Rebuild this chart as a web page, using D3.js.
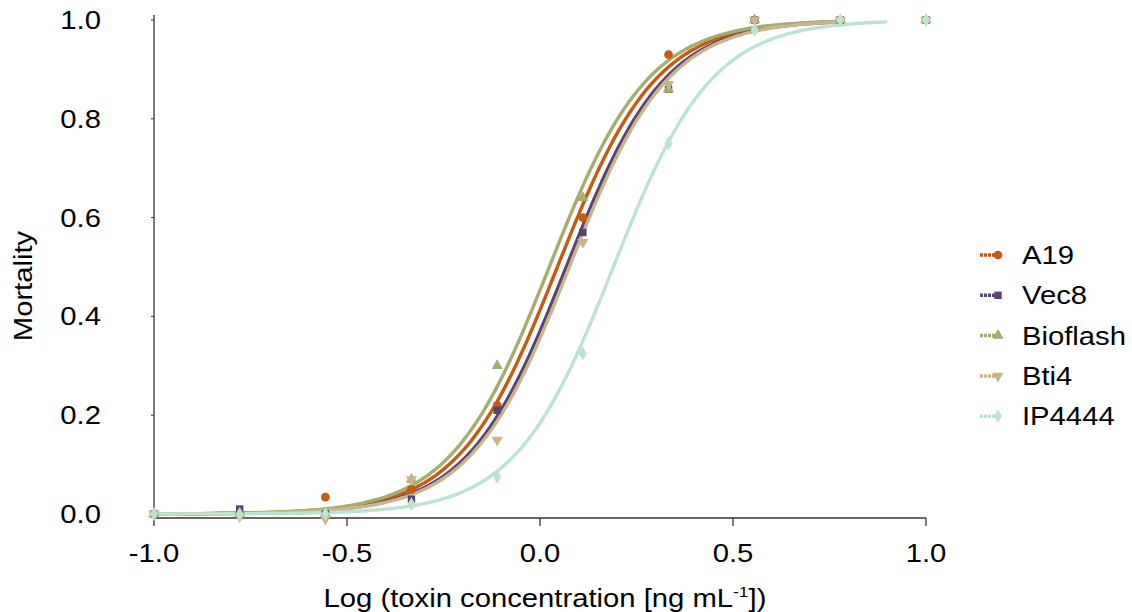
<!DOCTYPE html>
<html>
<head>
<meta charset="utf-8">
<script src="https://cdn.jsdelivr.net/npm/d3@7"></script>
<style>
  body { margin: 0; background: #fff; }
  svg { font-family: "Liberation Sans", Arial, sans-serif; }
</style>
</head>
<body>
<svg id="chart" width="1132" height="612"></svg>
<script>
// log10 concentration of each dose
var doses = [-1.0, -0.778, -0.556, -0.333, -0.111, 0.111, 0.333, 0.556, 0.778, 1.0];

var seriesNames = ["A19", "Vec8", "Bioflash", "Bti4", "IP4444"];
var seriesColors = ["#c55a11", "#5a4270", "#a3ad6c", "#c9b48e", "#bce2d0"];
var seriesShapes = ["circle", "square", "triangle", "triangleDown", "diamond"];

// observed mortality
var a19 = [0.0, 0.0, 0.034, 0.05, 0.22, 0.60, 0.93, 1.0, 1.0, 1.0];
var vec8 = [0.0, 0.01, 0.0, 0.03, 0.21, 0.57, 0.86, 1.0, 1.0, 1.0];
var bioflash = [0.0, 0.0, 0.0, 0.07, 0.30, 0.64, 0.86, 1.0, 1.0, 1.0];
var bti4 = [0.0, -0.005, -0.01, 0.07, 0.15, 0.55, 0.87, 1.0, 1.0, 1.0];
var ip4444 = [0.0, 0.0, 0.0, 0.02, 0.075, 0.325, 0.75, 0.98, 1.0, 1.0];

// fitted dose-response (log LC50, hill slope) and x range of each fitted curve
var fitLC50 = [0.045, 0.068, 0.024, 0.076, 0.19];
var fitSlope = [3.4, 3.4, 3.4, 3.4, 3.4];
var fitEnd = [0.778, 0.778, 0.778, 0.778, 0.9];

var xTicks = [-1.0, -0.5, 0.0, 0.5, 1.0];
var yTicks = [0.0, 0.2, 0.4, 0.6, 0.8, 1.0];

var values = [a19, vec8, bioflash, bti4, ip4444];

var svg = d3.select("#chart");

var x = d3.scaleLinear().domain([-1, 1]).range([154, 926]);
var y = d3.scaleLinear().domain([0, 1]).range([514, 20]);

// the original font is a bit wider than Arial
var stretch = 1.17;
var fs = 25;
function addText(px, py, anchor, str) {
    return svg.append("text")
        .attr("transform", `translate(${px},${py}) scale(${stretch},1)`)
        .attr("text-anchor", anchor)
        .attr("font-size", fs)
        .text(str);
}

// axes
var xAxisY = 518;
svg.append("line")
    .attr("x1", 154).attr("x2", 926)
    .attr("y1", xAxisY).attr("y2", xAxisY)
    .attr("stroke", "#333").attr("stroke-width", 1.3);
svg.append("line")
    .attr("x1", 154).attr("x2", 154)
    .attr("y1", 15).attr("y2", xAxisY)
    .attr("stroke", "#333").attr("stroke-width", 1.3);

svg.selectAll(".xtick")
    .data(xTicks)
    .join("line")
    .attr("x1", d => x(d)).attr("x2", d => x(d))
    .attr("y1", xAxisY).attr("y2", xAxisY + 8)
    .attr("stroke", "#333").attr("stroke-width", 1.3);

xTicks.forEach(function(d) {
    addText(x(d), 562, "middle", d3.format(".1f")(d).replace("−", "-"));
});

svg.selectAll(".ytick")
    .data(yTicks)
    .join("line")
    .attr("x1", 151).attr("x2", 154)
    .attr("y1", d => y(d)).attr("y2", d => y(d))
    .attr("stroke", "#333").attr("stroke-width", 1);

yTicks.forEach(function(d) {
    addText(101, y(d) + 9, "end", d3.format(".1f")(d));
});

svg.append("text")
    .attr("transform", `translate(32,286) rotate(-90) scale(${stretch},1)`)
    .attr("text-anchor", "middle")
    .attr("font-size", fs)
    .text("Mortality");

var xTitle = addText(545, 607, "middle", null);
xTitle.append("tspan").text("Log (toxin concentration [ng mL");
xTitle.append("tspan").attr("dy", -10).attr("font-size", 15).text("-1");
xTitle.append("tspan").attr("dy", 10).text("])");

// markers
var symbolFor = {
    circle: d3.symbol().type(d3.symbolCircle).size(60),
    square: d3.symbol().type(d3.symbolSquare).size(55),
    triangle: d3.symbol().type(d3.symbolTriangle).size(55),
    triangleDown: d3.symbol().type(d3.symbolTriangle).size(55),
    diamond: d3.symbol().type(d3.symbolDiamond).size(55)
};
function markerTransform(shape, px, py) {
    return shape === "triangleDown"
        ? `translate(${px},${py}) rotate(180)`
        : `translate(${px},${py})`;
}

// fitted curves
var line = d3.line()
    .x(d => x(d[0]))
    .y(d => y(d[1]));

var plot = svg.append("g");
seriesNames.forEach(function(name, i) {
    var xs = d3.range(-1, fitEnd[i] + 0.0001, 0.01);
    var pts = xs.map(v => [v, 1 / (1 + Math.pow(10, (fitLC50[i] - v) * fitSlope[i]))]);
    plot.append("path")
        .datum(pts)
        .attr("fill", "none")
        .attr("stroke", seriesColors[i])
        .attr("stroke-width", 3.4)
        .attr("d", line);
});

// observed points
seriesNames.forEach(function(name, i) {
    plot.append("g")
        .selectAll("path")
        .data(values[i].map((v, j) => [doses[j], v]))
        .join("path")
        .attr("d", symbolFor[seriesShapes[i]]())
        .attr("transform", d => markerTransform(seriesShapes[i], x(d[0]), y(d[1])))
        .attr("fill", seriesColors[i]);
});

// legend
var legend = svg.append("g");
seriesNames.forEach(function(name, i) {
    var ly = 255 + i * 40.3;
    legend.append("line")
        .attr("x1", 980).attr("x2", 998)
        .attr("y1", ly).attr("y2", ly)
        .attr("stroke", seriesColors[i])
        .attr("stroke-width", 3.5)
        .attr("stroke-dasharray", "3,1");
    legend.append("path")
        .attr("d", symbolFor[seriesShapes[i]]())
        .attr("transform", markerTransform(seriesShapes[i], 998, ly))
        .attr("fill", seriesColors[i]);
    addText(1022, ly + 9, "start", name);
});
</script>
</body>
</html>
